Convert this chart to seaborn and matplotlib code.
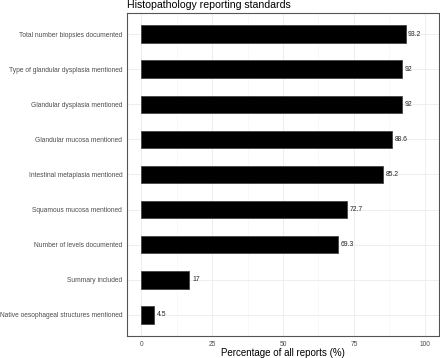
import matplotlib
matplotlib.use("Agg")
import matplotlib.pyplot as plt
import seaborn as sns
import pandas as pd
from matplotlib.ticker import MultipleLocator

categories = [
    "Total number biopsies documented",
    "Type of glandular dysplasia mentioned",
    "Glandular dysplasia mentioned",
    "Glandular mucosa mentioned",
    "Intestinal metaplasia mentioned",
    "Squamous mucosa mentioned",
    "Number of levels documented",
    "Summary included",
    "Native oesophageal structures mentioned",
]
values = [93.2, 92, 92, 88.6, 85.2, 72.7, 69.3, 17, 4.5]
value_labels = ["93.2", "92", "92", "88.6", "85.2", "72.7", "69.3", "17", "4.5"]
xticks = [0, 25, 50, 75, 100]

df = pd.DataFrame({"category": categories, "value": values})

sns.set_style("white")
plt.rcParams['font.family'] = ['Liberation Sans', 'DejaVu Sans']

fig = plt.figure(figsize=(4.4, 3.58), dpi=100)
ax = fig.add_axes([127/440, 1 - 336/358, (439-127)/440, (336-13)/358])

sns.barplot(data=df, x="value", y="category", orient="h", color="black",
            edgecolor="#444444", linewidth=0.6, width=0.5, ax=ax, saturation=1)

for i, (v, lab) in enumerate(zip(values, value_labels)):
    ax.text(v + 0.9, i, lab, va="center", ha="left", fontsize=4.9, color="#222222")

ax.set_xlim(-5, 105)
ax.set_ylim(8.6, -0.6)
ax.set_xticks(xticks)
ax.set_xticklabels([str(t) for t in xticks])
ax.xaxis.set_minor_locator(MultipleLocator(12.5))
ax.grid(True, which="major", color="#ebebeb", linewidth=0.6)
ax.grid(True, which="minor", axis="x", color="#f3f3f3", linewidth=0.4)
ax.set_axisbelow(True)
for s in ax.spines.values():
    s.set_color("#555555")
    s.set_linewidth(0.8)
ax.tick_params(axis="both", which="major", length=2.5, width=0.6, color="#444444",
               labelsize=4.8, labelcolor="#4d4d4d", pad=1.0)
ax.tick_params(axis="both", which="minor", length=0)
ax.set_xlabel("Percentage of all reports (%)", fontsize=7.0, color="black", labelpad=0)
ax.set_ylabel("")
fig.text(127/440, 1 - 5/358, "Histopathology reporting standards", fontsize=7.6,
         ha="left", va="center", color="black")

fig.savefig("out.png", dpi=100)
